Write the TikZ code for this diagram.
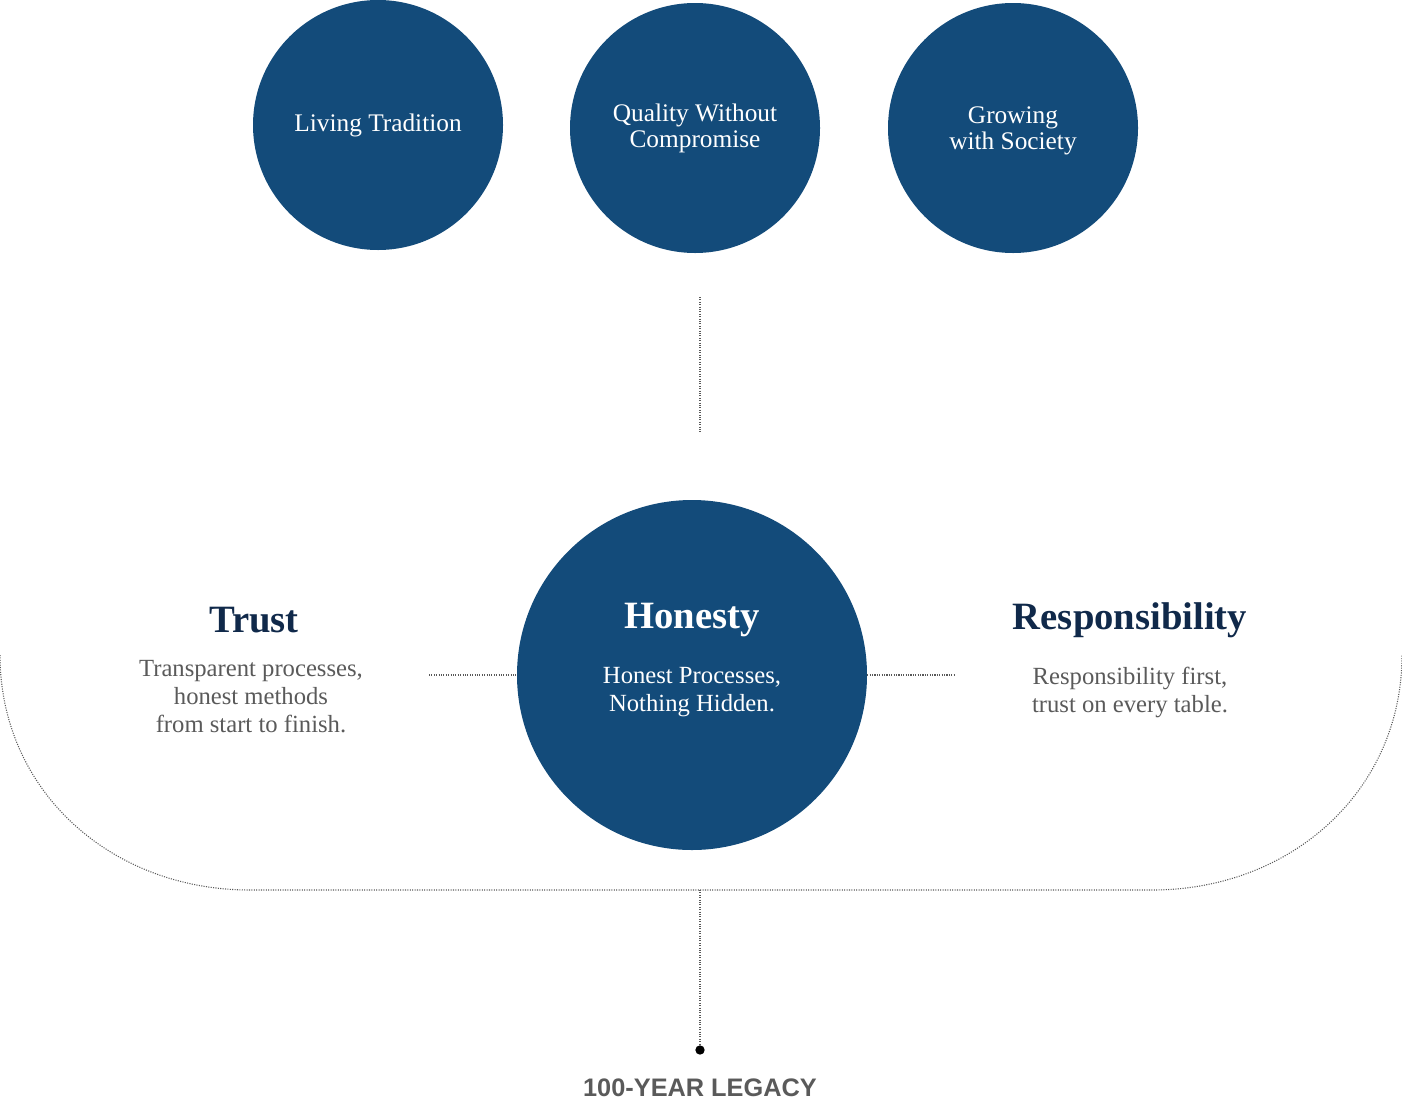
\documentclass[tikz,border=0pt]{standalone}
\usepackage{fontspec}
\setmainfont{Liberation Serif}
\setsansfont{Liberation Sans}
\usepackage{tikz}
\usetikzlibrary{positioning}
\definecolor{honestblue}{HTML}{134B7A}
\definecolor{headnavy}{HTML}{10294A}
\definecolor{bodygray}{HTML}{5A5A5A}
\tikzset{
  value/.style={circle,fill=honestblue,text=white,minimum size=187.5pt,inner sep=0pt,
    align=center,font=\fontsize{19}{19.5}\selectfont},
  link/.style={black!65,densely dotted,line width=0.8pt},
  head/.style={text=headnavy,font=\fontsize{29}{29}\selectfont\bfseries},
  body/.style={text=bodygray,align=center,font=\fontsize{18.5}{21}\selectfont}
}
\begin{document}
\begin{tikzpicture}[x=0.75pt,y=-0.75pt]
    \useasboundingbox (0,0) rectangle (1402,1107);
    % top values
    \node[value] (tradition) at (378,125) {Living Tradition};
    \node[value] (quality) at (695,128) {Quality Without\\Compromise};
    \node[value,text depth=0pt] (society) at (1013,128) {Growing\\with Society};
    \coordinate (qtop) at (700,297);
    \coordinate (qbot) at (700,432);
    \draw[link] (qtop) -- (qbot);

    % centre
    \node[value,minimum size=262.5pt] (honesty) at (692,675) {};
    \node[head,text=white] (honestyhead) at (692,620) {Honesty};
    \node[text=white,align=center,font=\fontsize{18.5}{21}\selectfont] (honestytext) at (692,692) {Honest Processes,\\Nothing Hidden.};

    % sides
    \node[head] (trust) at (254,620) {Trust};
    \node[body] (trusttext) at (251,697) {Transparent processes,\\honest methods\\from start to finish.};
    \node[head] (resp) at (1130,620) {Responsibility};
    \node[body] (resptext) at (1130,692) {Responsibility first,\\trust on every table.};
    \coordinate (tl) at (429,675);
    \coordinate (tr) at (955,675);
    \draw[link] (tl) -- (honesty.west);
    \draw[link] (honesty.east) -- (tr);

    % base
    \coordinate (uleft) at (0,655);
    \coordinate (uright) at (1402,655);
    \draw[link] (uleft) .. controls (0,790) and (110,890) .. (250,890) -- (1152,890)
        .. controls (1292,890) and (1402,790) .. (uright);
    \coordinate (ubase) at (700,890);
    \node[circle,fill=black,inner sep=0pt,minimum size=7pt] (dot) at (700,1050) {};
    \draw[link] (ubase) -- (dot);
    \node[text=bodygray,font=\sffamily\bfseries\fontsize{19}{19}\selectfont] (legacy) at (700,1088) {100-YEAR LEGACY};
\end{tikzpicture}
\end{document}
